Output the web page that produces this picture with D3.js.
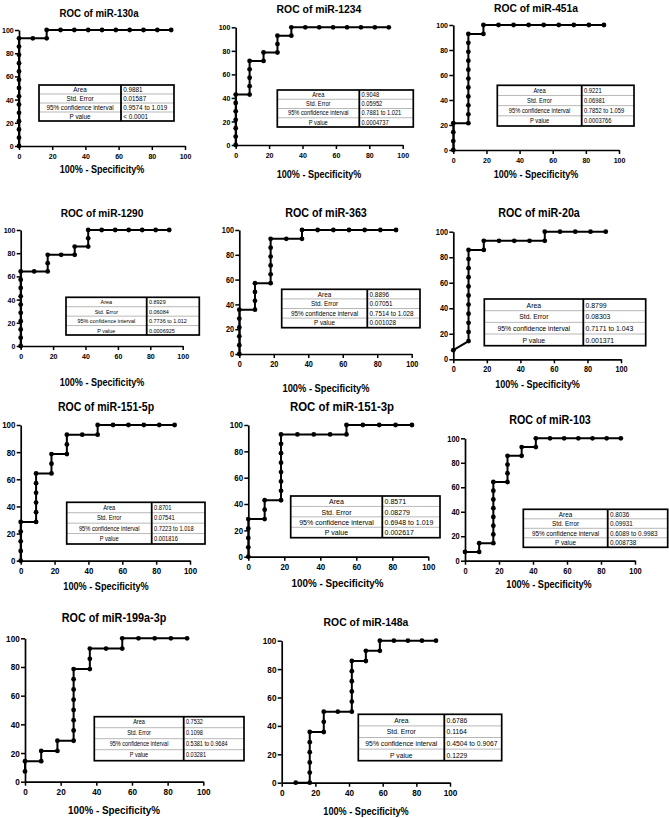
<!DOCTYPE html>
<html><head><meta charset="utf-8">
<script src="https://cdn.jsdelivr.net/npm/d3@7"></script>
<style>body{margin:0;background:#fff}svg{display:block}</style>
</head><body>
<svg id="c" width="669" height="818"></svg>
<script>
// ---------- data ----------
const statLabels = ["Area", "Std. Error", "95% confidence interval", "P value"];
const axisTicks = [0, 20, 40, 60, 80, 100];
const xAxisTitle = "100% - Specificity%";
const titles = ["ROC of miR-130a","ROC of miR-1234","ROC of miR-451a","ROC of miR-1290","ROC of miR-363","ROC of miR-20a","ROC of miR-151-5p","ROC of miR-151-3p","ROC of miR-103","ROC of miR-199a-3p","ROC of miR-148a"];

const x130a = [0,0,0,0,0,0,0,0,0,0,0,0,0,0, 8.333,16.67,16.67, 25,33.33,41.67,50,58.33,66.67,75,83.33,91.67];
const y130a = [0,7.143,14.29,21.43,28.57,35.71,42.86,50,57.14,64.29,71.43,78.57,85.71,92.86, 92.86,92.86,100, 100,100,100,100,100,100,100,100,100];
const s130a = ["0.9881","0.01587","0.9574 to 1.019","< 0.0001"];

const x1234 = [0,0,0,0,0,0,0, 8.333,8.333,8.333,8.333,8.333, 16.67,16.67, 25,25,25, 33.33,33.33, 41.67,50,58.33,66.67,75,83.33,91.67];
const y1234 = [0,7.143,14.29,21.43,28.57,35.71,42.86, 42.86,50,57.14,64.29,71.43, 71.43,78.57, 78.57,85.71,92.86, 92.86,100, 100,100,100,100,100,100,100];
const s1234 = ["0.9048","0.05952","0.7881 to 1.021","0.0004737"];

const x451a = [0,0,0,0, 9.091,9.091,9.091,9.091,9.091,9.091,9.091,9.091,9.091,9.091,9.091, 18.18,18.18, 27.27,36.36,45.45,54.55,63.64,72.73,81.82,90.91];
const y451a = [0,7.143,14.29,21.43, 21.43,28.57,35.71,42.86,50,57.14,64.29,71.43,78.57,85.71,92.86, 92.86,100, 100,100,100,100,100,100,100,100];
const s451a = ["0.9221","0.06981","0.7852 to 1.059","0.0003766"];

const x1290 = [0,0,0,0,0,0,0,0,0,0, 8.333, 16.67,16.67,16.67, 25, 33.33,33.33, 41.67,41.67,41.67, 50,58.33,66.67,75,83.33,91.67];
const y1290 = [0,7.143,14.29,21.43,28.57,35.71,42.86,50,57.14,64.29, 64.29, 64.29,71.43,78.57, 78.57, 78.57,85.71, 85.71,92.86,100, 100,100,100,100,100,100];
const s1290 = ["0.8929","0.06084","0.7736 to 1.012","0.0006925"];

const x363 = [0,0,0,0,0,0, 9.091,9.091,9.091,9.091, 18.18,18.18,18.18,18.18,18.18,18.18, 27.27, 36.36,36.36, 45.45,54.55,63.64,72.73,81.82,90.91];
const y363 = [0,7.143,14.29,21.43,28.57,35.71, 35.71,42.86,50,57.14, 57.14,64.29,71.43,78.57,85.71,92.86, 92.86, 92.86,100, 100,100,100,100,100,100];
const s363 = ["0.8896","0.07051","0.7514 to 1.028","0.001028"];

const x20a = [0, 9.091,9.091,9.091,9.091,9.091,9.091,9.091,9.091,9.091,9.091,9.091, 18.18,18.18, 27.27,36.36,45.45, 54.55,54.55, 63.64,72.73,81.82,90.91];
const y20a = [7.143, 14.29,21.43,28.57,35.71,42.86,50,57.14,64.29,71.43,78.57,85.71, 85.71,92.86, 92.86,92.86,92.86, 92.86,100, 100,100,100,100];
const s20a = ["0.8799","0.08303","0.7171 to 1.043","0.001371"];

const x151_5p = [0,0,0,0,0, 9.091,9.091,9.091,9.091,9.091,9.091, 18.18,18.18,18.18, 27.27,27.27,27.27, 36.36, 45.45,45.45, 54.55,63.64,72.73,81.82,90.91];
const y151_5p = [0,7.143,14.29,21.43,28.57, 28.57,35.71,42.86,50,57.14,64.29, 64.29,71.43,78.57, 78.57,85.71,92.86, 92.86, 92.86,100, 100,100,100,100,100];
const s151_5p = ["0.8701","0.07541","0.7223 to 1.018","0.001816"];

const x151_3p = [0,0,0,0,0, 9.091,9.091,9.091, 18.18,18.18,18.18,18.18,18.18,18.18,18.18,18.18, 27.27,36.36,45.45, 54.55,54.55, 63.64,72.73,81.82,90.91];
const y151_3p = [0,7.143,14.29,21.43,28.57, 28.57,35.71,42.86, 42.86,50,57.14,64.29,71.43,78.57,85.71,92.86, 92.86,92.86,92.86, 92.86,100, 100,100,100,100];
const s151_3p = ["0.8571","0.08279","0.6948 to 1.019","0.002617"];

const x103 = [0, 8.333,8.333, 16.67,16.67,16.67,16.67,16.67,16.67,16.67,16.67, 25,25,25,25, 33.33,33.33, 41.67,41.67, 50,58.33,66.67,75,83.33,91.67];
const y103 = [7.143, 7.143,14.29, 14.29,21.43,28.57,35.71,42.86,50,57.14,64.29, 64.29,71.43,78.57,85.71, 85.71,92.86, 92.86,100, 100,100,100,100,100,100];
const s103 = ["0.8036","0.09931","0.6089 to 0.9983","0.008738"];

const x199a_3p = [0,0, 9.091,9.091, 18.18,18.18, 27.27,27.27,27.27,27.27,27.27,27.27,27.27,27.27, 36.36,36.36,36.36, 45.45, 54.55,54.55, 63.64,72.73,81.82,90.91];
const y199a_3p = [7.143,14.29, 14.29,21.43, 21.43,28.57, 28.57,35.71,42.86,50,57.14,64.29,71.43,78.57, 78.57,85.71,92.86, 92.86, 92.86,100, 100,100,100,100];
const s199a_3p = ["0.7532","0.1098","0.5381 to 0.9684","0.03281"];

const x148a = [8.333, 16.67,16.67,16.67,16.67,16.67,16.67, 25,25,25, 33.33, 41.67,41.67,41.67,41.67,41.67,41.67, 50,50, 58.33,58.33, 66.67,75,83.33,91.67];
const y148a = [0, 0,7.143,14.29,21.43,28.57,35.71, 35.71,42.86,50, 50, 50,57.14,64.29,71.43,78.57,85.71, 85.71,92.86, 92.86,100, 100,100,100,100];
const s148a = ["0.6786","0.1164","0.4504 to 0.9067","0.1229"];

const seriesX = [x130a,x1234,x451a,x1290,x363,x20a,x151_5p,x151_3p,x103,x199a_3p,x148a];
const seriesY = [y130a,y1234,y451a,y1290,y363,y20a,y151_5p,y151_3p,y103,y199a_3p,y148a];
const seriesS = [s130a,s1234,s451a,s1290,s363,s20a,s151_5p,s151_3p,s103,s199a_3p,s148a];

// ---------- layout ----------
const layouts = [
 {ox:19, oy:146, x1:185, y1:30, tx:99, ty:17.3, ts:11.0, lx:102, ly:172.5, ls:10.3, ks:8,
  tb:{x0:39,x1:174,y0:85,y1:121,d:121,fs:7.2}},
 {ox:235.7, oy:145, x1:402.7, y1:27.3, tx:319, ty:13.3, ts:11.8, lx:319, ly:178, ls:10.3, ks:8,
  tb:{x0:277.3,x1:413.3,y0:90,y1:127,d:359.3,fs:6.5}},
 {ox:453.3, oy:150, x1:619, y1:25, tx:536, ty:11.5, ts:11.7, lx:536, ly:178, ls:10.3, ks:8,
  tb:{x0:497.3,x1:634,y0:85.3,y1:126,d:581.7,fs:6.6}},
 {ox:20.7, oy:346, x1:182.7, y1:230, tx:102, ty:217, ts:11.5, lx:102, ly:386, ls:10.3, ks:8,
  tb:{x0:66,x1:199.3,y0:297.3,y1:335,d:146.7,fs:6.2}},
 {ox:239.3, oy:354, x1:411.7, y1:230, tx:326, ty:217, ts:12.2, lx:326, ly:392, ls:10.6, ks:8.3,
  tb:{x0:281.7,x1:420,y0:289.3,y1:327.7,d:367.3,fs:7.2}},
 {ox:453.3, oy:359.3, x1:621, y1:231.7, tx:539, ty:216.7, ts:12.2, lx:537.5, ly:388, ls:10.3, ks:8.3,
  tb:{x0:484.3,x1:645.7,y0:299,y1:345.7,d:583.3,fs:7.8}},
 {ox:20.7, oy:560.7, x1:190, y1:425, tx:106, ty:410.7, ts:12.0, lx:106, ly:590, ls:10.4, ks:9,
  tb:{x0:66.7,x1:205,y0:502.3,y1:544,d:151.7,fs:6.5}},
 {ox:248.3, oy:556.7, x1:428.3, y1:425, tx:342, ty:410.7, ts:13.0, lx:337.5, ly:587, ls:11.2, ks:9,
  tb:{x0:290.7,x1:440,y0:496,y1:537.7,d:382.3,fs:8.0}},
 {ox:465, oy:560.7, x1:635, y1:438.3, tx:550, ty:424, ts:12.2, lx:549, ly:588, ls:10.4, ks:8.5,
  tb:{x0:523.3,x1:667.7,y0:509.3,y1:547.3,d:607.7,fs:7.2}},
 {ox:25, oy:781.7, x1:203.3, y1:638.3, tx:114, ty:621.7, ts:12.3, lx:114, ly:814, ls:11.2, ks:9.3,
  tb:{x0:94.3,x1:244,y0:716.7,y1:760.7,d:183.7,fs:6.3}},
 {ox:281.7, oy:782.7, x1:450, y1:640.7, tx:366, ty:626, ts:11.8, lx:366, ly:815, ls:10.4, ks:9.3,
  tb:{x0:358.3,x1:501.7,y0:714.3,y1:760.7,d:444.3,fs:7.7}}
];

const SX = 0.88; // horizontal text compression
const FONT = "'Liberation Sans', Arial, sans-serif";
const svg = d3.select("#c");
svg.append("rect").attr("width",669).attr("height",818).attr("fill","#fff");

function label(g, x, y, txt, size, weight, anchor) {
  g.append("text")
    .attr("transform", `translate(${x},${y}) scale(${SX},1)`)
    .attr("font-family", FONT).attr("font-size", size).attr("font-weight", weight)
    .attr("text-anchor", anchor).attr("fill", "#000").text(txt);
}

layouts.forEach((L, i) => {
  const g = svg.append("g");
  const xs = d3.scaleLinear().domain([0,100]).range([L.ox, L.x1]);
  const ys = d3.scaleLinear().domain([0,100]).range([L.oy, L.y1]);

  // title
  label(g, L.tx, L.ty, titles[i], L.ts, "bold", "middle");
  // x title
  label(g, L.lx, L.ly, xAxisTitle, L.ls, "bold", "middle");

  // axes
  const ax = g.append("g").attr("transform", `translate(0,${L.oy})`)
    .call(d3.axisBottom(xs).tickValues(axisTicks).tickSize(4).tickPadding(3).tickSizeOuter(0));
  const ay = g.append("g").attr("transform", `translate(${L.ox},0)`)
    .call(d3.axisLeft(ys).tickValues(axisTicks).tickSize(4).tickPadding(2).tickSizeOuter(0));
  [ax, ay].forEach(a => {
    a.select(".domain").attr("stroke", "#000").attr("stroke-width", 1.7);
    a.selectAll(".tick line").attr("stroke", "#000").attr("stroke-width", 1.5);
    a.selectAll(".tick text").attr("font-family", FONT).attr("font-size", L.ks)
      .attr("font-weight", "bold").attr("fill", "#000")
      .attr("transform", `scale(${SX},1)`);
  });

  // curve
  const pts = seriesX[i].map((v, k) => [v, seriesY[i][k]]);
  g.append("path").datum(pts)
    .attr("d", d3.line().x(d => xs(d[0])).y(d => ys(d[1])))
    .attr("fill", "none").attr("stroke", "#000").attr("stroke-width", 2)
    .attr("stroke-linejoin", "miter");
  g.selectAll("circle.pt").data(pts).join("circle")
    .attr("cx", d => xs(d[0])).attr("cy", d => ys(d[1])).attr("r", 2.4).attr("fill", "#000");

  // stats table
  const T = L.tb;
  const rh = (T.y1 - T.y0) / 4;
  const tg = g.append("g");
  tg.append("rect").attr("x", T.x0).attr("y", T.y0).attr("width", T.x1 - T.x0).attr("height", T.y1 - T.y0)
    .attr("fill", "#fff").attr("stroke", "none");
  d3.range(1, 4).forEach(r => {
    tg.append("line").attr("x1", T.x0).attr("x2", T.x1)
      .attr("y1", T.y0 + r * rh).attr("y2", T.y0 + r * rh)
      .attr("stroke", "#9a9a9a").attr("stroke-width", 0.7);
  });
  statLabels.forEach((s, r) => {
    const cy = T.y0 + (r + 0.5) * rh + T.fs * 0.36;
    label(tg, (T.x0 + T.d) / 2, cy, s, T.fs, "normal", "middle");
    label(tg, T.d + 2.3, cy, seriesS[i][r], T.fs, "normal", "start");
  });
  tg.append("line").attr("x1", T.d).attr("x2", T.d).attr("y1", T.y0).attr("y2", T.y1)
    .attr("stroke", "#000").attr("stroke-width", 1.8);
  tg.append("rect").attr("x", T.x0).attr("y", T.y0).attr("width", T.x1 - T.x0).attr("height", T.y1 - T.y0)
    .attr("fill", "none").attr("stroke", "#000").attr("stroke-width", 1.7);
});
</script>
</body></html>
